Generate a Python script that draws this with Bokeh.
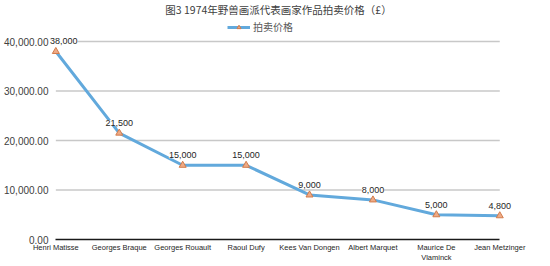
from bokeh.plotting import figure
from bokeh.models import (Range1d, FixedTicker, NumeralTickFormatter, ColumnDataSource,
                          LabelSet, Label, Legend, LegendItem)
from bokeh.core.properties import value
from bokeh.embed import file_html
from bokeh.resources import INLINE

title_text = "图3 1974年野兽画派代表画家作品拍卖价格（£）"
series_name = "拍卖价格"
categories = ["Henri Matisse", "Georges Braque", "Georges Rouault", "Raoul Dufy",
              "Kees Van Dongen", "Albert Marquet", "Maurice De\nVlaminck", "Jean Metzinger"]
prices = [38000, 21500, 15000, 15000, 9000, 8000, 5000, 4800]
y_ticks = [0, 10000, 20000, 30000, 40000]

n = len(categories)
xs = list(range(n))
label_dx = [8] + [0] * (n - 1)
src = ColumnDataSource(dict(x=xs, y=prices, label=[f"{v:,}" for v in prices], dx=label_dx))

p = figure(width=550, height=266, output_backend="svg", toolbar_location=None,
           x_range=Range1d(-0.1, n - 1 + 0.8), y_range=Range1d(0, 48300),
           min_border_left=49, min_border_right=0, min_border_top=0, min_border_bottom=27)
p.outline_line_color = None
p.background_fill_color = "white"
p.xgrid.visible = False
p.ygrid.visible = False

# horizontal gridlines spanning the category extent
p.segment(x0=0, x1=n - 1, y0=y_ticks[1:], y1=y_ticks[1:], line_color="#c8c8c8", line_width=1.5)

line_r = p.line('x', 'y', source=src, line_color="#62a9dc", line_width=3)
scat_r = p.scatter('x', 'y', source=src, marker="triangle", size=7,
                   fill_color="#eeaa86", line_color="#d27c4c", line_width=1)

# axes
p.xaxis.ticker = FixedTicker(ticks=xs)
p.xaxis.major_label_overrides = {i: c for i, c in enumerate(categories)}
p.xaxis.bounds = (0, n - 1)
p.xaxis.axis_line_color = "#1a1a1a"
p.xaxis.axis_line_width = 1.5
p.xaxis.major_tick_line_color = None
p.xaxis.minor_tick_line_color = None
p.xaxis.major_tick_out = 0
p.xaxis.major_tick_in = 0
p.xaxis.major_label_text_font = "Liberation Sans"
p.xaxis.major_label_text_font_size = "7.5px"
p.xaxis.major_label_text_color = "#262626"
p.xaxis.major_label_standoff = 3

p.yaxis.ticker = FixedTicker(ticks=y_ticks)
p.yaxis.formatter = NumeralTickFormatter(format="0,0.00")
p.yaxis.axis_line_color = None
p.yaxis.major_tick_line_color = None
p.yaxis.minor_tick_line_color = None
p.yaxis.major_tick_out = 0
p.yaxis.major_tick_in = 0
p.yaxis.major_label_text_font = "Liberation Sans"
p.yaxis.major_label_text_font_size = "10px"
p.yaxis.major_label_text_color = "#404040"
p.yaxis.major_label_standoff = 1

# data labels
labels = LabelSet(x='x', y='y', text='label', source=src, x_offset='dx', y_offset=7,
                  text_align='center', text_baseline='bottom',
                  text_font=value('Liberation Sans'), text_font_size='9px',
                  text_color='#262626', background_fill_color='white')
p.add_layout(labels)

# title
title = Label(x=278 - 49, y=230, x_units="screen", y_units="screen", text=title_text,
              text_align="center", text_baseline="middle", text_font="Noto Sans CJK SC",
              text_font_size="10.5px", text_color="#404040")
p.add_layout(title)

legend = Legend(items=[LegendItem(label=series_name, renderers=[line_r, scat_r])],
                location=(178, 205), orientation="horizontal", padding=0, margin=0,
                border_line_color=None, background_fill_alpha=0, glyph_width=23,
                glyph_height=10, label_height=12, label_standoff=3,
                label_text_font="Noto Sans CJK SC", label_text_font_size="10px",
                label_text_color="#595959")
p.add_layout(legend)

open("out.html", "w").write(file_html(p, INLINE))
